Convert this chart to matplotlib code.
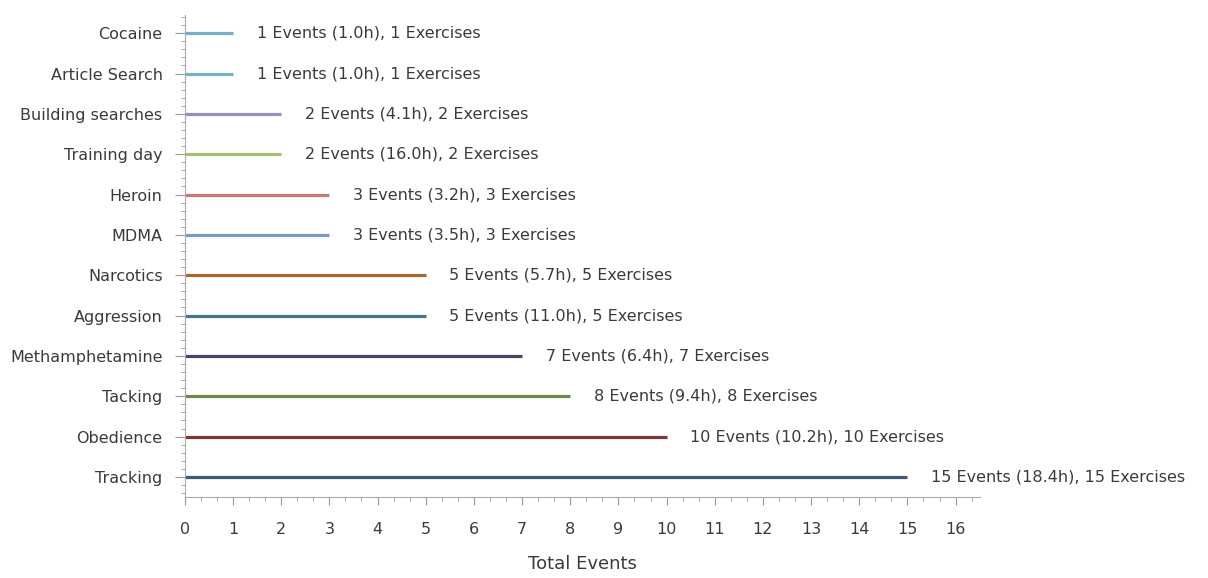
import matplotlib
matplotlib.use("Agg")
import matplotlib.pyplot as plt
from matplotlib.ticker import MultipleLocator

plt.rcParams.update({
    "font.family": ["DejaVu Sans"],
    "font.size": 11,
})

# data, bottom to top
categories = ["Tracking", "Obedience", "Tacking", "Methamphetamine", "Aggression",
              "Narcotics", "MDMA", "Heroin", "Training day", "Building searches",
              "Article Search", "Cocaine"]
events    = [15, 10, 8, 7, 5, 5, 3, 3, 2, 2, 1, 1]
hours     = [18.4, 10.2, 9.4, 6.4, 11.0, 5.7, 3.5, 3.2, 16.0, 4.1, 1.0, 1.0]
exercises = [15, 10, 8, 7, 5, 5, 3, 3, 2, 2, 1, 1]
colors = ["#3f5a78", "#7e3535", "#6e8a4b", "#4e4367", "#3d7a86", "#a8682c",
          "#7c9ac9", "#c97a78", "#a3c06f", "#9b8dbb", "#72b3c3", "#72b3c3"]

fig = plt.figure(figsize=(12.08, 5.78), dpi=100)
ax = fig.add_axes([0.153, 0.14, 0.658, 0.834])

for i, (ev, h, ex, c) in enumerate(zip(events, hours, exercises, colors)):
    ax.plot([0, ev], [i, i], color=c, lw=2.3, solid_capstyle="butt")
    ax.annotate(f"{ev} Events ({h:.1f}h), {ex} Exercises", (ev, i),
                xytext=(17, 0), textcoords="offset points",
                va="center", ha="left", fontsize=11.5, color="#3a3a3a")

ax.set_xlim(0, 16.5)
ax.set_ylim(-0.5, 11.45)
ax.set_yticks(range(len(categories)))
ax.set_yticklabels(categories, color="#3a3a3a", fontsize=11.5)
ax.set_xticks(range(17))
ax.xaxis.set_minor_locator(MultipleLocator(1/3))
ax.yaxis.set_minor_locator(MultipleLocator(0.2))
ax.tick_params(axis="x", which="major", length=6, color="#999999", labelsize=11.5,
               labelcolor="#3a3a3a", pad=12)
ax.tick_params(axis="x", which="minor", length=3, color="#999999")
ax.tick_params(axis="y", which="major", length=7, color="#999999", pad=9)
ax.tick_params(axis="y", which="minor", length=3, color="#999999")
for s in ["top", "right"]:
    ax.spines[s].set_visible(False)
for s in ["left", "bottom"]:
    ax.spines[s].set_color("#aaaaaa")
ax.set_xlabel("Total Events", fontsize=13, color="#3a3a3a", labelpad=13)

fig.savefig("out.png", dpi=100)
